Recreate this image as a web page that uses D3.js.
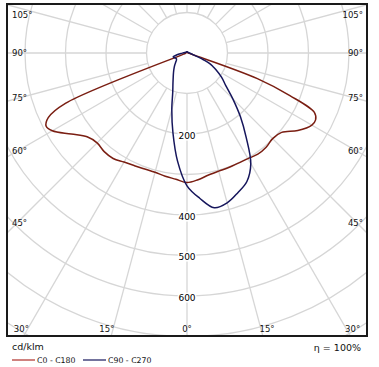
<!DOCTYPE html>
<html>
<head>
<meta charset="utf-8">
<script src="https://cdn.jsdelivr.net/npm/d3@7"></script>
<style>
  body { margin: 0; background: #fff; }
  svg { display: block; font-family: "DejaVu Sans", Verdana, sans-serif; }
</style>
</head>
<body>
<div id="chart"></div>
<script>
// gamma angles in degrees from nadir, where the curves were read
const gammaAngles = [0, 5, 10, 15, 20, 25, 30, 35, 40, 45, 50, 55, 60, 62.5, 65, 67.5, 70, 72.5, 75, 80, 85, 90, 105, 120, 135, 150, 165, 180];
// cd/klm
const c0Values   = [320, 314, 306, 302, 301, 300, 301, 305, 304, 299, 305, 334, 356, 358, 347, 275, 185, 30, 10, 6, 4, 3, 2, 2, 2, 2, 2, 2];
const c180Values = [320, 313, 309, 305, 305, 307, 311, 318, 318, 314, 322, 349, 384, 392, 378, 325, 15, 8, 5, 4, 3, 3, 2, 2, 2, 2, 2, 2];
const c90Values  = [328, 360, 388, 383, 367, 350, 315, 255, 205, 160, 125, 104, 82, 72, 62, 45, 30, 20, 15, 10, 8, 6, 4, 3, 3, 3, 3, 3];
const c270Values = [328, 268, 200, 145, 103, 82, 68, 58, 50, 43, 37, 32, 30, 30, 30, 32, 33, 35, 35, 25, 15, 10, 5, 4, 3, 3, 3, 3];

const ringValues = [100, 200, 300, 400, 500, 600, 700, 800, 900];
const ringLabels = [200, 400, 500, 600];
const spokeAngles = d3.range(0, 360, 15);
const sideLabels = [105, 90, 75, 60, 45];
const bottomLabels = [30, 15];

const seriesNames = ["C0 - C180", "C90 - C270"];
const seriesColors = ["#7a1e12", "#16165c"];

const width = 379, height = 367;
const frame = {x: 7, y: 4, w: 360, h: 332};
const cx = 187, cy = 53;

const svg = d3.select("#chart").append("svg")
    .attr("width", width)
    .attr("height", height);

const r = d3.scaleLinear().domain([0, 100]).range([0, 40.5]);

svg.append("clipPath").attr("id", "clip")
    .append("rect")
    .attr("x", frame.x).attr("y", frame.y)
    .attr("width", frame.w).attr("height", frame.h);

const plot = svg.append("g").attr("clip-path", "url(#clip)");
const g = plot.append("g").attr("transform", `translate(${cx},${cy})`);

// grid: rings and spokes (spokes start at the first ring)
g.append("g")
    .selectAll("circle")
    .data(ringValues)
    .join("circle")
    .attr("r", d => r(d))
    .attr("fill", "none")
    .attr("stroke", "#d6d6d6")
    .attr("stroke-width", 1.3);

g.append("g")
    .selectAll("line")
    .data(spokeAngles)
    .join("line")
    .attr("x1", d => r(100) * Math.sin(d * Math.PI / 180))
    .attr("y1", d => r(100) * Math.cos(d * Math.PI / 180))
    .attr("x2", d => r(1100) * Math.sin(d * Math.PI / 180))
    .attr("y2", d => r(1100) * Math.cos(d * Math.PI / 180))
    .attr("stroke", "#d6d6d6")
    .attr("stroke-width", 1.3);

// curves: right half runs from 180 down to 0, left half back up to 180
const toRad = a => a * Math.PI / 180;
const buildCurve = (right, left) => {
    const pts = [];
    for (let i = gammaAngles.length - 1; i >= 0; i--)
        pts.push([Math.PI - toRad(gammaAngles[i]), right[i]]);
    for (let i = 1; i < gammaAngles.length; i++)
        pts.push([Math.PI + toRad(gammaAngles[i]), left[i]]);
    return pts;
};

const radial = d3.lineRadial()
    .angle(d => d[0])
    .radius(d => r(d[1]))
    .curve(d3.curveCatmullRomClosed.alpha(0.5));

const curves = [buildCurve(c0Values, c180Values), buildCurve(c90Values, c270Values)];

// ring labels on the nadir axis
g.append("g")
    .selectAll("text")
    .data(ringLabels)
    .join("text")
    .attr("x", 0)
    .attr("y", d => r(d) + 2)
    .attr("text-anchor", "middle")
    .attr("dominant-baseline", "middle")
    .attr("font-size", 9)
    .attr("fill", "#000")
    .attr("stroke", "#fff")
    .attr("stroke-width", 3)
    .attr("paint-order", "stroke")
    .text(d => d);

g.append("g")
    .selectAll("path")
    .data(curves)
    .join("path")
    .attr("d", radial)
    .attr("fill", "none")
    .attr("stroke", (d, i) => seriesColors[i])
    .attr("stroke-width", 1.5);

// angle labels along the frame
const labels = svg.append("g")
    .attr("font-size", 8.5)
    .attr("fill", "#111");

const sideY = a => Math.max(15.5, cy + 170 / Math.tan(toRad(a)));
sideLabels.forEach(a => {
    labels.append("text")
        .attr("x", 12).attr("y", sideY(a))
        .attr("dominant-baseline", "middle")
        .text(a + "°");
    labels.append("text")
        .attr("x", 363).attr("y", sideY(a))
        .attr("text-anchor", "end")
        .attr("dominant-baseline", "middle")
        .text(a + "°");
});

const bottomY = 329.5;
bottomLabels.forEach(a => {
    const dx = (bottomY - cy) * Math.tan(toRad(a)) + 6;
    [-1, 1].forEach(s => {
        labels.append("text")
            .attr("x", cx + s * dx).attr("y", bottomY)
            .attr("text-anchor", "middle")
            .attr("dominant-baseline", "middle")
            .text(a + "°");
    });
});
labels.append("text")
    .attr("x", cx).attr("y", bottomY)
    .attr("text-anchor", "middle")
    .attr("dominant-baseline", "middle")
    .text("0°");

// frame
svg.append("rect")
    .attr("x", frame.x).attr("y", frame.y)
    .attr("width", frame.w).attr("height", frame.h)
    .attr("fill", "none")
    .attr("stroke", "#1a1a1a")
    .attr("stroke-width", 2);

// legend
svg.append("text")
    .attr("x", 12).attr("y", 350)
    .attr("font-size", 9.5)
    .attr("fill", "#111")
    .text("cd/klm");

const legendX = [12, 83];
const legend = svg.append("g")
    .selectAll("g")
    .data(seriesNames)
    .join("g")
    .attr("transform", (d, i) => `translate(${legendX[i]},360)`);

legend.append("line")
    .attr("x1", 0).attr("x2", 23)
    .attr("stroke", (d, i) => i === 0 ? "#b0302a" : seriesColors[i])
    .attr("stroke-width", 1.2);

legend.append("text")
    .attr("x", 25).attr("y", 3)
    .attr("font-size", 7.8)
    .attr("fill", "#111")
    .text(d => d);

svg.append("text")
    .attr("x", 361).attr("y", 351)
    .attr("text-anchor", "end")
    .attr("font-size", 9.5)
    .attr("fill", "#111")
    .text("η = 100%");
</script>
</body>
</html>
